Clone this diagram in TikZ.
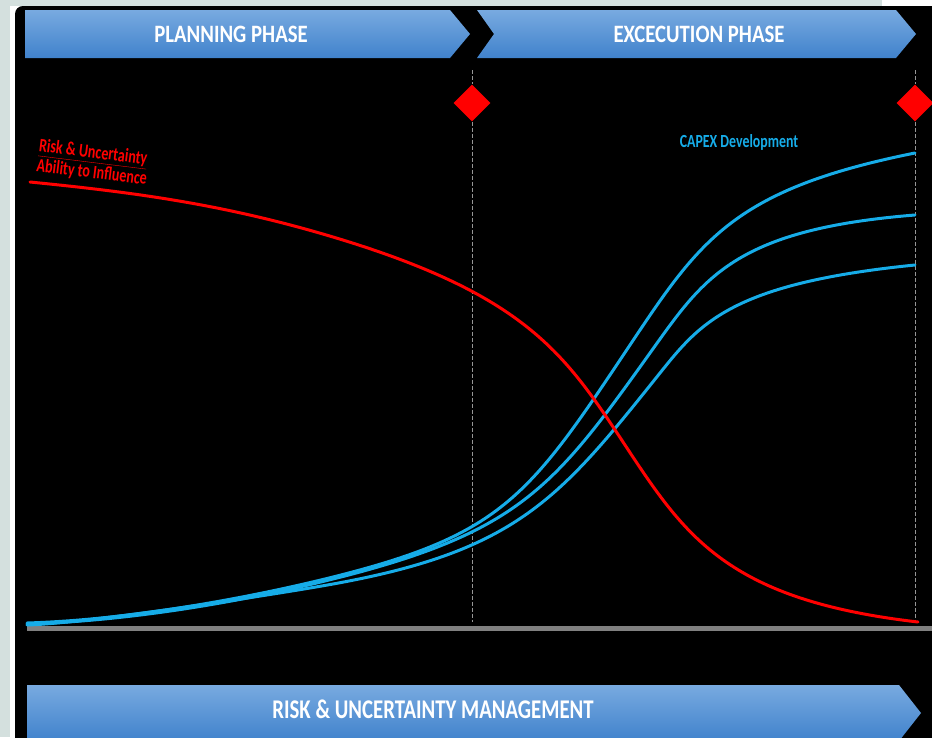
\documentclass[tikz,border=0pt]{standalone}
\usepackage{fontspec}
\usetikzlibrary{shapes.geometric}
\newfontfamily\bannerfont[FakeStretch=0.83]{Carlito}
\newfontfamily\riskfont[FakeStretch=0.77]{Carlito}
\newfontfamily\redlabelfont[FakeStretch=0.74]{Carlito}
\newfontfamily\capexfont[FakeStretch=0.75]{Carlito}
\definecolor{pagebg}{RGB}{212,224,222}
\definecolor{bantop}{RGB}{120,170,224}
\definecolor{banbot}{RGB}{64,130,204}
\definecolor{capex}{RGB}{22,172,232}
\definecolor{riskred}{RGB}{255,0,0}
\definecolor{axisgray}{RGB}{128,128,128}
\definecolor{dashgray}{RGB}{150,150,150}
\begin{document}
\begin{tikzpicture}[x=1pt,y=-1pt,
  banner/.style={top color=bantop, bottom color=banbot, draw=none},
  bannertext/.style={text=white, font=\bannerfont\bfseries\fontsize{25}{29}\selectfont, inner sep=0pt},
  risktext/.style={text=white, font=\riskfont\bfseries\fontsize{27}{31}\selectfont, inner sep=0pt},
  milestone/.style={diamond, fill=riskred, draw=none, minimum width=37pt, minimum height=37pt, inner sep=0pt},
  dashline/.style={draw=dashgray, line width=1pt, dash pattern=on 4pt off 2pt},
  bluecurve/.style={draw=capex, line width=3pt, line cap=round},
  redcurve/.style={draw=riskred, line width=3pt, line cap=round}
]
\useasboundingbox (0,0) rectangle (932,737);
\clip (0,0) rectangle (932,737);
% page background
\fill[pagebg] (0,0) rectangle (932,737);
\fill[white] (882,0) rectangle (932,6);
\fill[white] (10,6) rectangle (20,737);
\fill[black, rounded corners=8pt] (15,6) rectangle (950,760);

% phase banners
\fill[banner] (25,10) -- (450,10) -- (470,34) -- (450,58) -- (25,58) -- cycle;
\fill[banner] (477,10) -- (896,10) -- (916,34) -- (896,58) -- (477,58) -- (494,34) -- cycle;
\fill[banner] (27,685) -- (899,685) -- (921,713) -- (899,741) -- (27,741) -- cycle;
\node[bannertext] (plan) at (231,34) {PLANNING PHASE};
\node[bannertext] (exec) at (699,34) {EXCECUTION PHASE};
\node[risktext] (mgmt) at (433,709) {RISK \& UNCERTAINTY MANAGEMENT};

% milestones
\node[milestone] (m1) at (472,103) {};
\node[milestone] (m2) at (915,103) {};
\coordinate (m1top) at (472,70);
\coordinate (m1bot) at (472,622);
\coordinate (m2top) at (915,70);
\coordinate (m2bot) at (915,622);
\draw[dashline] (m1top) -- (m1.north);
\draw[dashline] (m1.south) -- (m1bot);
\draw[dashline] (m2top) -- (m2.north);
\draw[dashline] (m2.south) -- (m2bot);

% baseline
\fill[axisgray] (27,626) rectangle (932,631);

% CAPEX curves
\draw[bluecurve] (27,623) .. controls (127,620) and (246,598.75) .. (333,577)
  .. controls (503.8,534.3) and (530,495) .. (630,345)
  .. controls (700,240) and (733.8,189.3) .. (915,153);
\draw[bluecurve] (27,624) .. controls (127,621) and (238,602.75) .. (333,579)
  .. controls (522.4,531.6) and (555,486) .. (655,346)
  .. controls (705,276) and (738.5,229.1) .. (915,215);
\draw[bluecurve] (27,625) .. controls (87,623.2) and (271,595.2) .. (333,584)
  .. controls (517.8,550.7) and (560,498) .. (660,373)
  .. controls (700,323) and (731.7,283.4) .. (915,265);

% risk curve
\draw[redcurve] (30,182) .. controls (130,192) and (221,203.4) .. (333,237)
  .. controls (526.3,295) and (565,353.8) .. (625,445)
  .. controls (685,536) and (727,600) .. (918,622);

% labels
\node[text=riskred, font=\redlabelfont\bfseries\fontsize{19}{20}\selectfont, align=left, rotate=-7, inner sep=0pt] (risklabel) at (93,163) {\underline{Risk \& Uncertainty}\\Ability to Influence};
\node[text=capex, font=\capexfont\bfseries\fontsize{18.5}{21}\selectfont, inner sep=0pt] (capexlabel) at (739,142) {CAPEX Development};
\end{tikzpicture}
\end{document}
